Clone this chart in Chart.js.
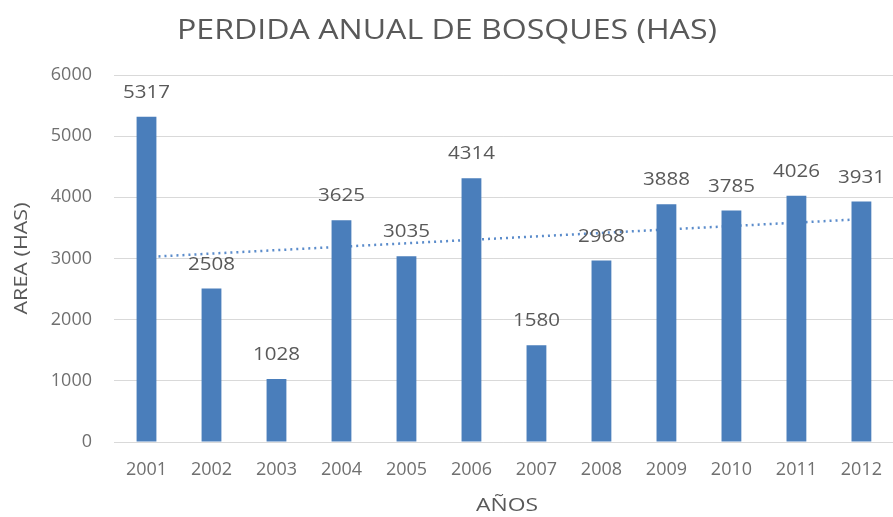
<!DOCTYPE html>
<html>
<head>
<meta charset="utf-8">
<script src="https://cdn.jsdelivr.net/npm/chart.js@4"></script>
<style>
html,body{margin:0;padding:0;background:#fff;overflow:hidden;}
#wrap{width:899px;height:517px;position:relative;}
</style>
</head>
<body>
<div id="wrap"><canvas id="c"></canvas></div>
<script>
const years = ['2001','2002','2003','2004','2005','2006','2007','2008','2009','2010','2011','2012'];
const areaHas = [5317,2508,1028,3625,3035,4314,1580,2968,3888,3785,4026,3931];
// linear trend line end values (dotted line)
const trendValues = [3024,null,null,null,null,null,null,null,null,null,null,3643];
const yTicks = [0,1000,2000,3000,4000,5000,6000];
const titleText = 'PERDIDA ANUAL DE BOSQUES (HAS)';
const xTitleText = 'AÑOS';
const yTitleText = 'AREA (HAS)';

const FONT = "'Open Sans', sans-serif";
const TXT = '#595959';
const TICK = '#707070';

// draw text horizontally stretched to a target width (reference text is wide)
function drawFit(ctx, text, cx, cy, size, targetW, color) {
  ctx.save();
  ctx.font = size + "px " + FONT;
  ctx.fillStyle = color;
  ctx.textAlign = 'center';
  ctx.textBaseline = 'middle';
  const w = ctx.measureText(text).width;
  const sx = targetW / w;
  ctx.translate(cx, cy);
  ctx.scale(sx, 1);
  ctx.fillText(text, 0, 0);
  ctx.restore();
}

const textPlugin = {
  id: 'texts',
  afterDatasetsDraw(chart) {
    const ctx = chart.ctx;
    const meta = chart.getDatasetMeta(0);
    meta.data.forEach((bar, i) => {
      const s = String(areaHas[i]);
      drawFit(ctx, s, bar.x, bar.y - 24, 18, 47, TXT);
    });
  },
  afterDraw(chart) {
    const ctx = chart.ctx;
    const area = chart.chartArea;
    drawFit(ctx, titleText, 447, 31, 27, 540, TXT);
    drawFit(ctx, xTitleText, 507, 506, 19, 62, TXT);
    ctx.save();
    ctx.translate(22, (area.top + area.bottom) / 2);
    ctx.rotate(-Math.PI / 2);
    drawFit(ctx, yTitleText, 0, 0, 18, 112, TXT);
    ctx.restore();
  }
};

new Chart(document.getElementById('c'), {
  type: 'bar',
  data: {
    labels: years,
    datasets: [
      {
        type: 'bar',
        label: 'AREA (HAS)',
        data: areaHas,
        backgroundColor: '#4a7ebb',
        barPercentage: 0.305,
        categoryPercentage: 1,
        order: 1
      },
      {
        type: 'line',
        label: 'Tendencia',
        data: trendValues,
        spanGaps: true,
        borderColor: '#5b8ccb',
        borderWidth: 2.5,
        borderDash: [2, 4],
        pointRadius: 0,
        fill: false,
        order: 2
      }
    ]
  },
  options: {
    responsive: true,
    maintainAspectRatio: false,
    animation: false,
    layout: { padding: { left: 0, right: 0, top: 75, bottom: 0 } },
    plugins: {
      legend: { display: false },
      tooltip: { enabled: false },
      title: { display: false }
    },
    scales: {
      x: {
        grid: { display: false, drawTicks: false },
        border: { display: false },
        ticks: { color: TICK, font: { family: FONT, size: 18 }, padding: 17, maxRotation: 0 },
        afterFit(scale) { scale.height = 75; }
      },
      y: {
        min: 0,
        max: 6000,
        afterBuildTicks(scale) { scale.ticks = yTicks.map(v => ({ value: v })); },
        grid: { color: '#d9d9d9', drawTicks: false, lineWidth: 1 },
        border: { display: false },
        ticks: { color: TICK, font: { family: FONT, size: 18 }, padding: 22, callback: v => String(v) },
        afterFit(scale) { scale.width = 114; }
      }
    }
  },
  plugins: [textPlugin]
});
</script>
</body>
</html>
